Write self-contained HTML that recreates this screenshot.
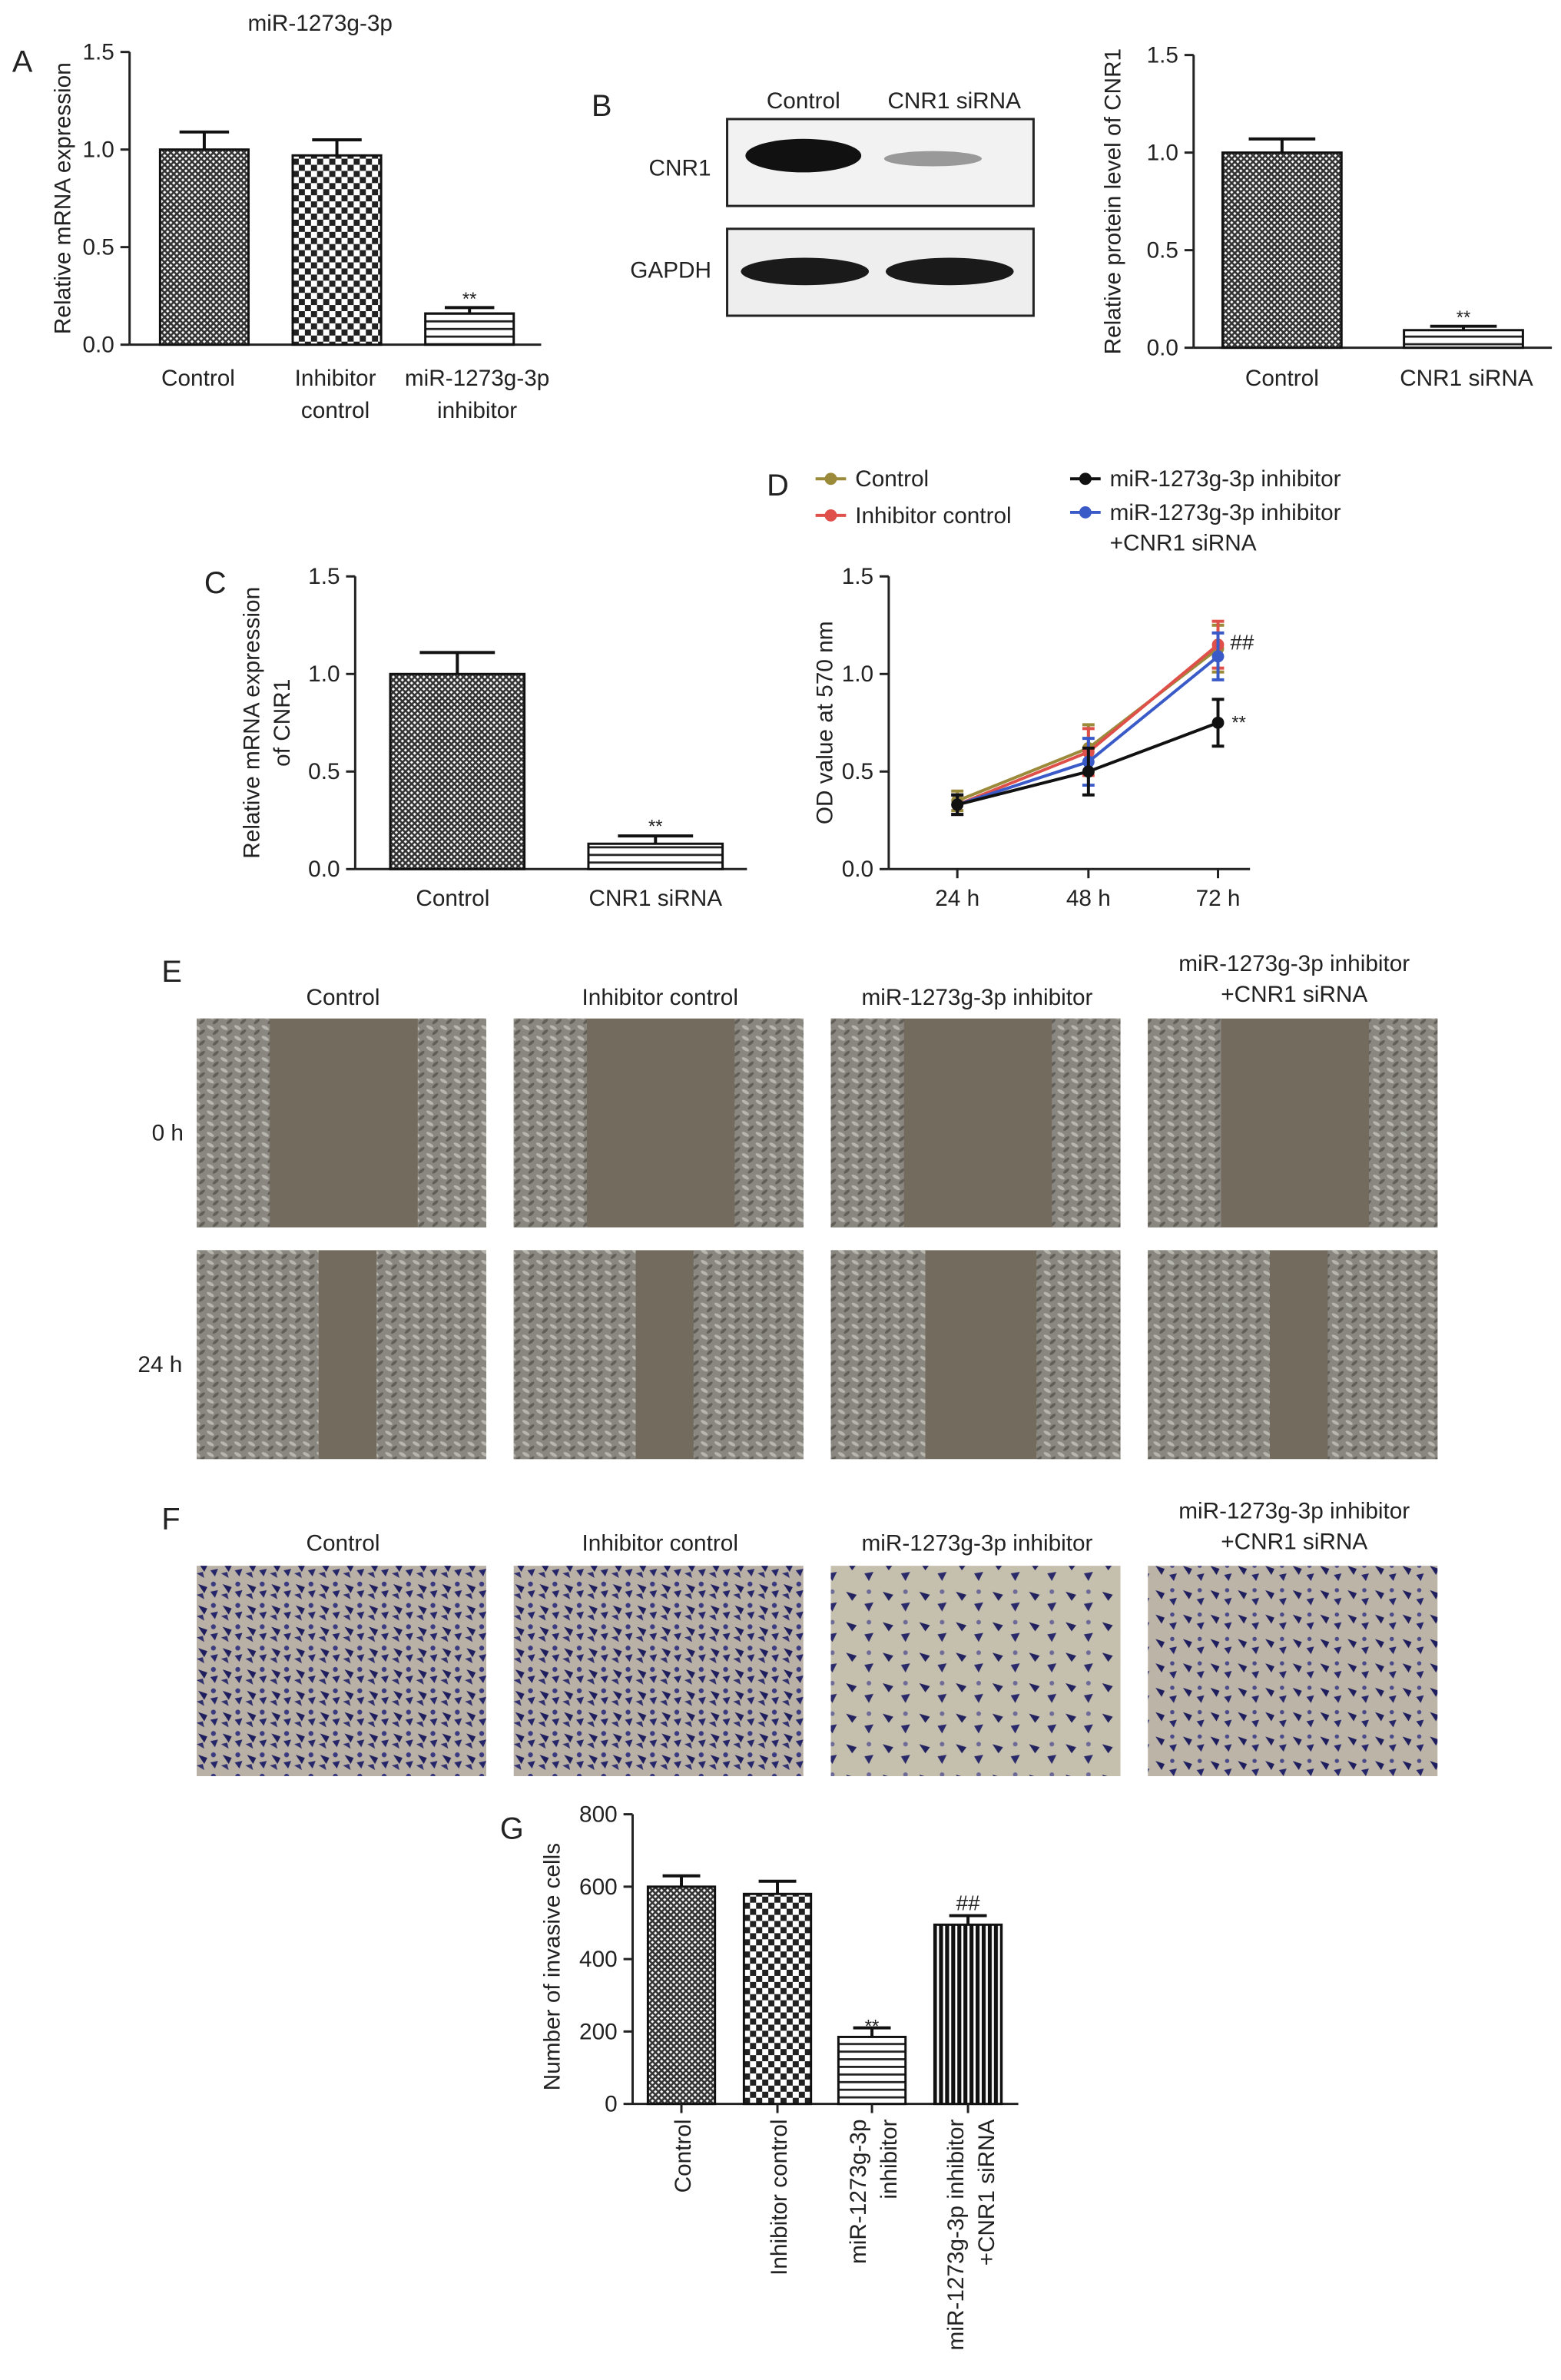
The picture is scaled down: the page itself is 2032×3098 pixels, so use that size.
<!DOCTYPE html>
<html><head><meta charset="utf-8"><style>
html,body{margin:0;padding:0;background:#fff}
svg{display:block}
text{font-family:"Liberation Sans",sans-serif;fill:#222}
</style></head><body>
<svg id="fig" width="2032" height="3098" viewBox="0 0 1024 1561" xmlns="http://www.w3.org/2000/svg">
<defs>
<pattern id="pDense" width="4" height="4" patternUnits="userSpaceOnUse"><rect width="4" height="4" fill="#fff"/><path d="M0 0L4 4M4 0L0 4" stroke="#333" stroke-width="1.3"/></pattern>
<pattern id="pCheck" width="8" height="8" patternUnits="userSpaceOnUse"><rect width="8" height="8" fill="#fff"/><rect width="4" height="4" fill="#222"/><rect x="4" y="4" width="4" height="4" fill="#222"/></pattern>
<pattern id="pHoriz" width="6" height="5" patternUnits="userSpaceOnUse"><rect width="6" height="5" fill="#fff"/><rect y="0" width="6" height="1.4" fill="#222"/></pattern>
<pattern id="pVert" width="4" height="6" patternUnits="userSpaceOnUse"><rect width="4" height="6" fill="#fff"/><rect width="2.6" height="6" fill="#111"/></pattern>
<pattern id="cells" width="9" height="7" patternUnits="userSpaceOnUse"><rect width="9" height="7" fill="#8e8c86"/><ellipse cx="3" cy="2" rx="2.6" ry="1.1" fill="#c4c4bc" transform="rotate(30 3 2)"/><ellipse cx="6.5" cy="5" rx="2.4" ry="1" fill="#5e5c57" transform="rotate(-40 6.5 5)"/></pattern>
<pattern id="inv" width="16" height="14" patternUnits="userSpaceOnUse"><rect width="16" height="14" fill="#b9b0a6"/><path d="M2 3l6 2-2 4z" fill="#1e1e5e"/><path d="M10 8l5-1-2 5z" fill="#25256a"/><circle cx="12" cy="3" r="1.6" fill="#3a3a80"/><path d="M1 10l4-1 1 4z" fill="#30306e"/></pattern>
<pattern id="inv2" width="24" height="20" patternUnits="userSpaceOnUse"><rect width="24" height="20" fill="#c5bfae"/><path d="M3 4l7 2-3 4z" fill="#22225f"/><path d="M15 12l6-1-3 6z" fill="#2a2a6a"/><circle cx="18" cy="4" r="1.5" fill="#6d6a98"/></pattern>
<pattern id="inv3" width="18" height="16" patternUnits="userSpaceOnUse"><rect width="18" height="16" fill="#bdb4a8"/><path d="M2 3l6 2-2 4z" fill="#1e1e5e"/><path d="M11 9l5-1-2 5z" fill="#25256a"/><circle cx="13" cy="3" r="1.4" fill="#4a4a88"/></pattern>
</defs>
<g id="root"></g>
</svg>
<script>
// ---- Data ----
const aCats=["Control","Inhibitor control","miR-1273g-3p inhibitor"];
const aVals=[1.0,0.97,0.16];
const aErr=[0.09,0.08,0.03];
const bCats=["Control","CNR1 siRNA"];
const bVals=[1.0,0.09];
const bErr=[0.07,0.02];
const cCats=["Control","CNR1 siRNA"];
const cVals=[1.0,0.13];
const cErr=[0.11,0.04];
const dTimes=["24 h","48 h","72 h"];
const dControl=[0.35,0.62,1.13];
const dInhCtrl=[0.33,0.60,1.15];
const dInh=[0.33,0.50,0.75];
const dInhSi=[0.33,0.55,1.09];
const dErr=[0.05,0.12,0.12];
const gCats=["Control","Inhibitor control","miR-1273g-3p inhibitor","miR-1273g-3p inhibitor +CNR1 siRNA"];
const gVals=[600,580,185,495];
const gErr=[30,35,25,25];
const ticks15=[0,0.5,1.0,1.5];
const ticks800=[0,200,400,600,800];

const NS="http://www.w3.org/2000/svg";
const root=document.getElementById('root');
function el(tag,attrs,parent,txt){const e=document.createElementNS(NS,tag);for(const k in attrs)e.setAttribute(k,attrs[k]);if(txt!==undefined)e.textContent=txt;(parent||root).appendChild(e);return e;}
function T(x,y,s,size,anchor,parent,extra){const t=el('text',Object.assign({x:x,y:y,'font-size':size||15,'text-anchor':anchor||'middle'},extra||{}),parent,s);return t;}
function axisY(g,x,y0,y1,max,ticks,fmt){
  el('line',{x1:x,y1:y0,x2:x,y2:y1,stroke:'#222','stroke-width':1.5},g);
  ticks.forEach(v=>{const y=y0-(y0-y1)*v/max;el('line',{x1:x-6,y1:y,x2:x,y2:y,stroke:'#222','stroke-width':1.5},g);T(x-10,y+5,fmt(v),15,'end',g);});
}
function bars(g,x0,y0,y1,max,xs,w,vals,errs,fills,name){
  vals.forEach((v,i)=>{const s=(y0-y1)/max;const top=y0-v*s;const cx=xs[i];
    const r=el('rect',{x:cx-w/2,y:top,width:w,height:y0-top,fill:fills[i],stroke:'#111','stroke-width':1.5},g);
    
    
    const et=top-errs[i]*s;
    el('line',{x1:cx,y1:top,x2:cx,y2:et,stroke:'#111','stroke-width':2},g);
    el('line',{x1:cx-w*0.28,y1:et,x2:cx+w*0.28,y2:et,stroke:'#111','stroke-width':2},g);
  });
}
const f1=v=>v.toFixed(1);

// Panel A
let g=el('g',{});
T(8,47,'A',20,'start',g);T(210,20,'miR-1273g-3p',15,'middle',g);
axisY(g,85,226,34,1.5,ticks15,f1);
el('line',{x1:85,y1:226,x2:355,y2:226,stroke:'#222','stroke-width':1.5},g);
bars(g,85,226,34,1.5,[134,221,308],58,aVals,aErr,['url(#pDense)','url(#pCheck)','url(#pHoriz)'],'a');
T(308,200,'**',12,'middle',g);
T(130,253,'Control',15,'middle',g);T(220,253,'Inhibitor',15,'middle',g);T(220,274,'control',15,'middle',g);
T(313,253,'miR-1273g-3p',15,'middle',g);T(313,274,'inhibitor',15,'middle',g);
T(46,130,'Relative mRNA expression',15,'middle',g,{transform:'rotate(-90 46 130)'});

// Panel B blot
g=el('g',{});
T(388,76,'B',20,'start',g);
el('rect',{x:477,y:78,width:201,height:57,fill:'#f2f2f2',stroke:'#222','stroke-width':1.5},g);
el('ellipse',{cx:527,cy:102,rx:38,ry:11,fill:'#111'},g);
el('ellipse',{cx:612,cy:104,rx:32,ry:5,fill:'#999'},g);
el('rect',{x:477,y:150,width:201,height:57,fill:'#eee',stroke:'#222','stroke-width':1.5},g);
el('ellipse',{cx:528,cy:178,rx:42,ry:9,fill:'#1a1a1a'},g);
el('ellipse',{cx:623,cy:178,rx:42,ry:9,fill:'#1a1a1a'},g);
T(527,71,'Control',15,'middle',g);T(626,71,'CNR1 siRNA',15,'middle',g);
T(446,115,'CNR1',15,'middle',g);T(440,182,'GAPDH',15,'middle',g);
axisY(g,783,228,36,1.5,ticks15,f1);
el('line',{x1:783,y1:228,x2:1018,y2:228,stroke:'#222','stroke-width':1.5},g);
bars(g,783,228,36,1.5,[841,960],78,bVals,bErr,['url(#pDense)','url(#pHoriz)'],'b');
T(960,212,'**',12,'middle',g);
T(841,253,'Control',15,'middle',g);T(962,253,'CNR1 siRNA',15,'middle',g);
T(735,132,'Relative protein level of CNR1',15,'middle',g,{transform:'rotate(-90 735 132)'});

// Panel C
g=el('g',{});
T(134,389,'C',20,'start',g);
axisY(g,233,570,378,1.5,ticks15,f1);
el('line',{x1:233,y1:570,x2:490,y2:570,stroke:'#222','stroke-width':1.5},g);
bars(g,233,570,378,1.5,[300,430],88,cVals,cErr,['url(#pDense)','url(#pHoriz)'],'c');
T(430,546,'**',12,'middle',g);
T(297,594,'Control',15,'middle',g);T(430,594,'CNR1 siRNA',15,'middle',g);
T(170,474,'Relative mRNA expression',15,'middle',g,{transform:'rotate(-90 170 474)'});
T(190,474,'of CNR1',15,'middle',g,{transform:'rotate(-90 190 474)'});

// Panel D
g=el('g',{});
T(503,325,'D',20,'start',g);
axisY(g,583,570,378,1.5,ticks15,f1);
el('line',{x1:583,y1:570,x2:820,y2:570,stroke:'#222','stroke-width':1.5},g);
const dx=[628,714,799];
dx.forEach((x,i)=>{el('line',{x1:x,y1:570,x2:x,y2:576,stroke:'#222','stroke-width':1.5},g);T(x,594,dTimes[i],15,'middle',g);});
const ys=v=>570-v*128;
const series=[[dControl,'#9a8a3a','control'],[dInhCtrl,'#e0504a','inhibitor-control'],[dInhSi,'#3a5ac8','inhibitor-sirna'],[dInh,'#111','inhibitor']];
series.forEach(([vals,col,nm])=>{
  const pl=el('polyline',{points:vals.map((v,i)=>dx[i]+','+ys(v)).join(' '),fill:'none',stroke:col,'stroke-width':2},g);
  
  
  vals.forEach((v,i)=>{const x=dx[i],y=ys(v),e=dErr[i]*128;
    el('line',{x1:x,y1:y-e,x2:x,y2:y+e,stroke:col,'stroke-width':2},g);
    el('line',{x1:x-4,y1:y-e,x2:x+4,y2:y-e,stroke:col,'stroke-width':2},g);
    el('line',{x1:x-4,y1:y+e,x2:x+4,y2:y+e,stroke:col,'stroke-width':2},g);
    el('circle',{cx:x,cy:y,r:4,fill:col},g);
  });
});
T(807,426,'##',14,'start',g);T(808,478,'**',12,'start',g);
T(546,474,'OD value at 570 nm',15,'middle',g,{transform:'rotate(-90 546 474)'});
function leg(x,y,col,lines){el('line',{x1:x,y1:y,x2:x+20,y2:y,stroke:col,'stroke-width':2},g);el('circle',{cx:x+10,cy:y,r:4,fill:col},g);lines.forEach((l,i)=>T(x+26,y+5+i*20,l,15,'start',g));}
leg(535,314,'#9a8a3a',['Control']);
leg(535,338,'#e0504a',['Inhibitor control']);
leg(702,314,'#111',['miR-1273g-3p inhibitor']);
leg(702,336,'#3a5ac8',['miR-1273g-3p inhibitor','+CNR1 siRNA']);

// Panel E & F
const imgX=[129,337,545,753];
const eLabels=[['Control'],['Inhibitor control'],['miR-1273g-3p inhibitor'],['miR-1273g-3p inhibitor','+CNR1 siRNA']];
g=el('g',{});
T(106,644,'E',20,'start',g);
imgX.forEach((x,i)=>{const L=eLabels[i];L.forEach((s,j)=>T(x+96,L.length>1?637+j*20:659,s,15,'middle',g));});
[[668,'0 h'],[820,'24 h']].forEach(([y,lab])=>{
  T(lab==='0 h'?110:105,y+80,lab,15,'middle',g);
  imgX.forEach((x,i)=>{
    el('rect',{x:x,y:y,width:190,height:137,fill:'#736b5e'},g);
    const wl=lab==='0 h'?48:(i==2?62:80);
    const wr=lab==='0 h'?45:(i==2?55:72);
    el('rect',{x:x,y:y,width:wl,height:137,fill:'url(#cells)',opacity:0.85},g);
    el('rect',{x:x+190-wr,y:y,width:wr,height:137,fill:'url(#cells)',opacity:0.85},g);
  });
});
g=el('g',{});
T(106,1003,'F',20,'start',g);
const fFill=['url(#inv)','url(#inv)','url(#inv2)','url(#inv3)'];
imgX.forEach((x,i)=>{const L=eLabels[i];L.forEach((s,j)=>T(x+96,L.length>1?996+j*20:1017,s,15,'middle',g));
  el('rect',{x:x,y:1027,width:190,height:138,fill:fFill[i]},g);});

// Panel G
g=el('g',{});
T(328,1206,'G',20,'start',g);
axisY(g,415,1380,1190,800,ticks800,v=>String(v));
el('line',{x1:415,y1:1380,x2:668,y2:1380,stroke:'#222','stroke-width':1.5},g);
const gx=[447,510,572,635];
bars(g,415,1380,1190,800,gx,44,gVals,gErr,['url(#pDense)','url(#pCheck)','url(#pHoriz)','url(#pVert)'],'g');
T(572,1333,'**',12,'middle',g);T(635,1253,'##',14,'middle',g);
gx.forEach((x,i)=>{el('line',{x1:x,y1:1380,x2:x,y2:1386,stroke:'#222','stroke-width':1.5},g);});
T(453,1390,'Control',15,'end',g,{transform:'rotate(-90 453 1390)'});
T(516,1390,'Inhibitor control',15,'end',g,{transform:'rotate(-90 516 1390)'});
T(568,1390,'miR-1273g-3p',15,'end',g,{transform:'rotate(-90 568 1390)'});
T(588,1390,'inhibitor',15,'end',g,{transform:'rotate(-90 588 1390)'});
T(632,1390,'miR-1273g-3p inhibitor',15,'end',g,{transform:'rotate(-90 632 1390)'});
T(652,1390,'+CNR1 siRNA',15,'end',g,{transform:'rotate(-90 652 1390)'});
T(367,1290,'Number of invasive cells',15,'middle',g,{transform:'rotate(-90 367 1290)'});
</script>
</body></html>
